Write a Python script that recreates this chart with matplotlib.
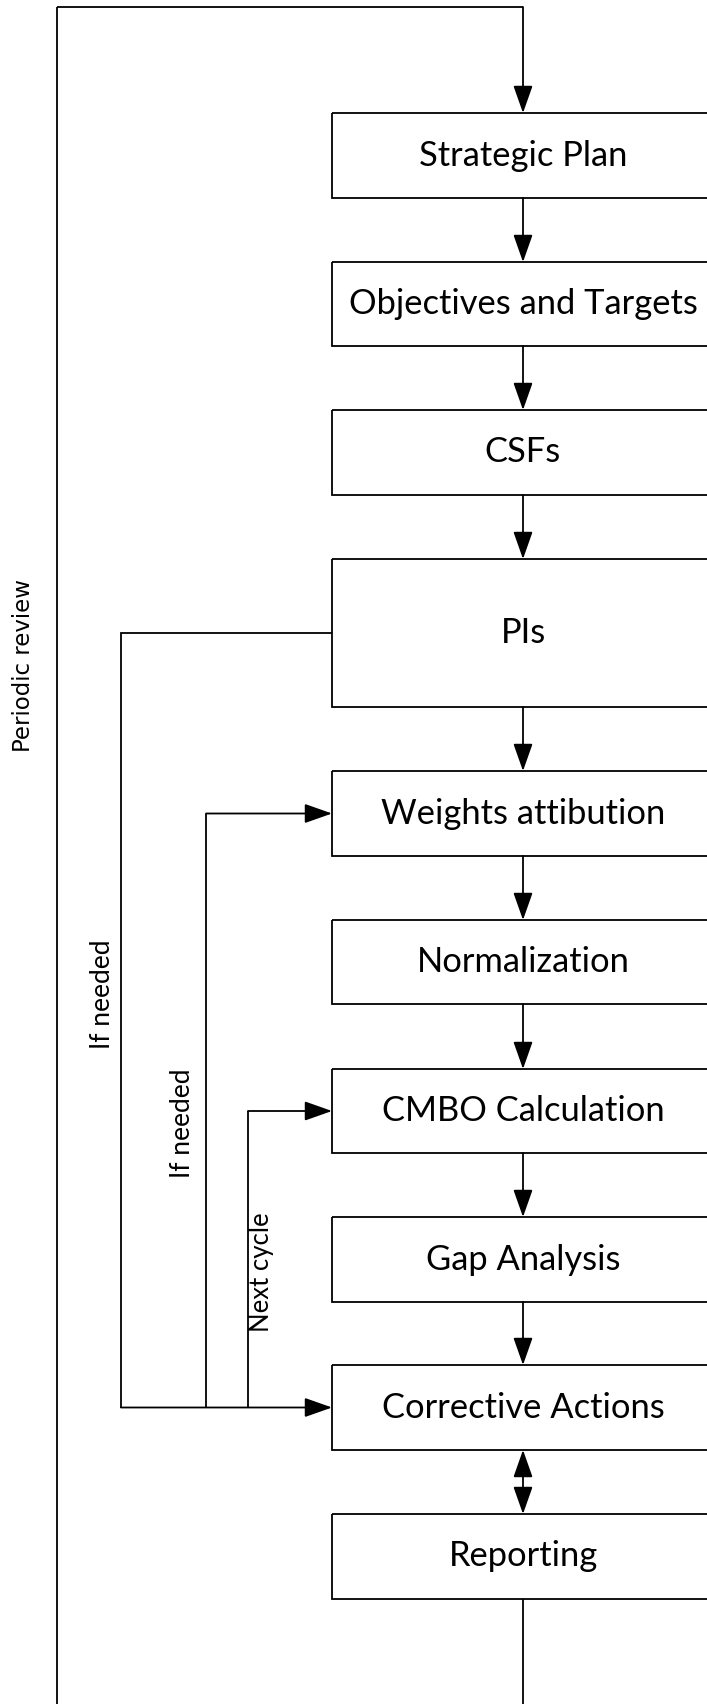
"""Performance management cycle flowchart (vertical process with feedback loops)."""

import matplotlib
matplotlib.use("Agg")
import matplotlib.pyplot as plt
from matplotlib.patches import Rectangle

# process steps, top to bottom
steps = ["Strategic Plan", "Objectives and Targets", "CSFs", "PIs",
         "Weights attibution", "Normalization", "CMBO Calculation",
         "Gap Analysis", "Corrective Actions", "Reporting"]
loop_labels = ["Periodic review", "If needed", "If needed", "Next cycle"]

# layout in pixels (y grows downward)
W, H = 707, 1704
box_top = [113, 262, 410, 559, 771, 920, 1069, 1217, 1365, 1514]
box_bot = [198, 346, 495, 707, 856, 1004, 1153, 1302, 1450, 1599]
box_left, box_right = 332, 714
cx = 523
LW = 1.3

fig = plt.figure(figsize=(W / 100, H / 100), dpi=100)
ax = fig.add_axes([0, 0, 1, 1])
ax.set_xlim(0, W)
ax.set_ylim(H, 0)
ax.axis("off")

box_font = ["Lato", "DejaVu Sans"]
small_font = ["Lato", "DejaVu Sans"]


def line(xs, ys):
    ax.plot(xs, ys, color="black", lw=LW, solid_capstyle="butt", solid_joinstyle="miter")


def arrow(x0, y0, x1, y1, both=False):
    style = "<|-|>" if both else "-|>"
    ax.annotate("", xy=(x1, y1), xytext=(x0, y0),
                arrowprops=dict(arrowstyle=f"{style},head_length=1.7,head_width=0.6",
                                color="black", lw=LW, shrinkA=0, shrinkB=0,
                                mutation_scale=10))


for label, top, bot in zip(steps, box_top, box_bot):
    ax.add_patch(Rectangle((box_left, top), box_right - box_left, bot - top,
                           fill=False, edgecolor="black", lw=LW))
    ax.text(cx, (top + bot) / 2, label, ha="center", va="center",
            fontsize=24.8, family=box_font)

# forward arrows between steps
for i in range(len(steps) - 1):
    if steps[i] == "Corrective Actions":
        arrow(cx, box_bot[i], cx, box_top[i + 1], both=True)
    else:
        arrow(cx, box_bot[i], cx, box_top[i + 1])

# periodic review loop
line([cx, cx], [box_bot[-1], H])
line([57, 57], [H, 7])
line([57, cx], [7, 7])
arrow(cx, 7, cx, box_top[0])

# feedback loops into corrective actions / weights / CMBO
y_ca = (box_top[8] + box_bot[8]) / 2
y_pi = (box_top[3] + box_bot[3]) / 2
y_w = (box_top[4] + box_bot[4]) / 2
y_c = (box_top[6] + box_bot[6]) / 2
line([box_left, 121, 121], [y_pi, y_pi, y_ca])
arrow(121, y_ca, box_left, y_ca)
line([206, 206], [y_ca, y_w])
arrow(206, y_w, box_left, y_w)
line([248, 248], [y_ca, y_c])
arrow(248, y_c, box_left, y_c)

ax.text(24, 665, loop_labels[0], rotation=90, ha="center", va="center",
        fontsize=16.5, family="DejaVu Sans")
ax.text(103, 994, loop_labels[1], rotation=90, ha="center", va="center",
        fontsize=19, family=small_font)
ax.text(182, 1123, loop_labels[2], rotation=90, ha="center", va="center",
        fontsize=19, family=small_font)
ax.text(262, 1272, loop_labels[3], rotation=90, ha="center", va="center",
        fontsize=18.5, family=small_font)

fig.savefig("out.png", dpi=100)
